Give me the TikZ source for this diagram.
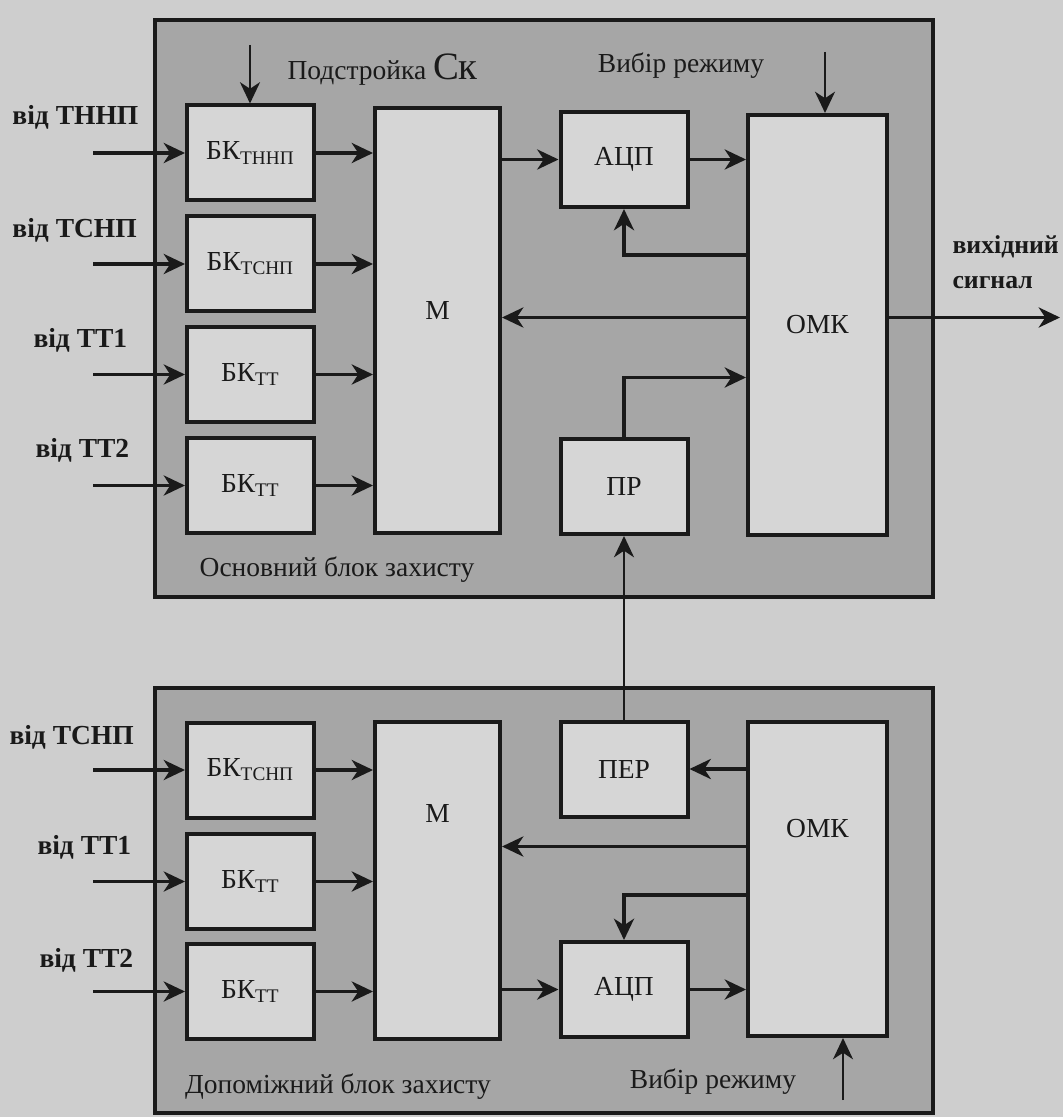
\documentclass[tikz,border=0pt]{standalone}
\usepackage{fontspec}
\setmainfont{Liberation Serif}
\usepackage{tikz}
\usetikzlibrary{arrows.meta,positioning,fit,calc}
\definecolor{scanBack}{RGB}{206,206,206}
\definecolor{scanFrame}{RGB}{166,166,166}
\definecolor{scanBox}{RGB}{214,214,214}
\definecolor{scanInk}{RGB}{26,26,26}

\begin{document}
\begin{tikzpicture}[x=0.4pt,y=-0.4pt,
  font=\fontsize{11}{13}\selectfont,
  frame/.style={draw=scanInk,line width=1.6pt,fill=scanFrame,inner sep=0pt},
  box/.style={draw=scanInk,line width=1.6pt,fill=scanBox,inner sep=0pt,text=scanInk},
  small/.style={box,minimum width=50.8pt,minimum height=38pt},
  arr/.style={-{Stealth[length=8.5pt,width=8pt,inset=2.6pt]},line width=1.5pt,draw=scanInk},
  thinarr/.style={arr,line width=1pt},
  txt/.style={text=scanInk,inner sep=0pt},
  inlbl/.style={txt,font=\fontsize{11}{13}\selectfont\bfseries,anchor=west}
]
  \fill[scanBack] (0,0) rectangle (1063,1117);
  \useasboundingbox (0,0) rectangle (1063,1117);

  \node[frame,fit={(155,20) (933,597)}] (mainblk) {};
  \node[frame,fit={(155,688) (933,1113)}] (auxblk) {};

  \node[small] (bkA) at (250.5,153) {БК\textsubscript{ТННП}};
  \node[small] (bkB) at (250.5,264) {БК\textsubscript{ТСНП}};
  \node[small] (bkC) at (250.5,374.5) {БК\textsubscript{ТТ}};
  \node[small] (bkD) at (250.5,485.5) {БК\textsubscript{ТТ}};
  \node[box,minimum width=50pt,minimum height=170pt,label={[txt,yshift=4pt]center:М}] (mA) at (437.5,320.5) {};
  \node[small] (adcA) at (624,159.5) {АЦП};
  \node[box,minimum width=55.6pt,minimum height=168pt] (omkA) at (817.5,325) {ОМК};
  \node[small] (prA) at (624,486.5) {ПР};

  \node[small] (bkE) at (250.5,770) {БК\textsubscript{ТСНП}};
  \node[small] (bkF) at (250.5,881.5) {БК\textsubscript{ТТ}};
  \node[small] (bkG) at (250.5,991.5) {БК\textsubscript{ТТ}};
  \node[box,minimum width=50pt,minimum height=126.8pt,label={[txt,yshift=27pt]center:М}] (mB) at (437.5,880.5) {};
  \node[small] (perB) at (624,769) {ПЕР};
  \node[small] (adcB) at (624,989.5) {АЦП};
  \node[box,minimum width=55.6pt,minimum height=125.6pt,label={[txt,yshift=20pt]center:ОМК}] (omkB) at (817.5,879) {};

  \node[inlbl] (lblA) at (12,117) {від ТННП};
  \node[inlbl] (lblB) at (12,230) {від ТСНП};
  \node[inlbl] (lblC) at (33,340) {від ТТ1};
  \node[inlbl] (lblD) at (35,450) {від ТТ2};
  \node[inlbl] (lblE) at (9,737) {від ТСНП};
  \node[inlbl] (lblF) at (37,847) {від ТТ1};
  \node[inlbl] (lblG) at (39,960) {від ТТ2};
  \node[inlbl,align=left,font=\fontsize{10.3}{14}\selectfont\bfseries] (outlbl) at (952,262) {вихідний\\сигнал};

  \node[txt,anchor=west] (tune) at (287,70) {Подстройка {\fontsize{15.5}{16}\selectfont Ск}};
  \node[txt] (modeA) at (681,66) {Вибір режиму};
  \node[txt] (modeB) at (713,1082) {Вибір режиму};
  \node[txt] (mainlbl) at (337,570) {Основний блок захисту};
  \node[txt] (auxlbl) at (338,1087) {Допоміжний блок захисту};

  \coordinate (inx) at (93,0);
  \coordinate (tuneIn) at (250,45);
  \coordinate (modeInA) at (825,52);
  \coordinate (modeInB) at (843,1100);
  \coordinate (outEnd) at (1060,0);

  \draw[arr] (inx |- bkA.west) -- (bkA.west);
  \draw[arr] (inx |- bkB.west) -- (bkB.west);
  \draw[arr] (inx |- bkC.west) -- (bkC.west);
  \draw[arr] (inx |- bkD.west) -- (bkD.west);
  \draw[arr] (bkA.east) -- (bkA.east -| mA.west);
  \draw[arr] (bkB.east) -- (bkB.east -| mA.west);
  \draw[arr] (bkC.east) -- (bkC.east -| mA.west);
  \draw[arr] (bkD.east) -- (bkD.east -| mA.west);
  \draw[thinarr] (tuneIn) -- (tuneIn |- bkA.north);
  \draw[arr] (mA.east |- adcA.west) -- (adcA.west);
  \draw[arr] (adcA.east) -- (adcA.east -| omkA.west);
  \draw[thinarr] (modeInA) -- (modeInA |- omkA.north);
  \draw[arr] ([yshift=28pt]omkA.west) -| (adcA.south);
  \draw[arr] ([yshift=3pt]omkA.west) -- ([yshift=3pt]omkA.west -| mA.east);
  \draw[arr] ([yshift=3pt]omkA.east) -- ([yshift=3pt]omkA.east -| outEnd);
  \draw[arr] (prA.north) |- ([yshift=-21pt]omkA.west);

  \draw[thinarr] (perB.north) -- (prA.south);

  \draw[arr] (inx |- bkE.west) -- (bkE.west);
  \draw[arr] (inx |- bkF.west) -- (bkF.west);
  \draw[arr] (inx |- bkG.west) -- (bkG.west);
  \draw[arr] (bkE.east) -- (bkE.east -| mB.west);
  \draw[arr] (bkF.east) -- (bkF.east -| mB.west);
  \draw[arr] (bkG.east) -- (bkG.east -| mB.west);
  \draw[arr] (omkB.west |- perB.east) -- (perB.east);
  \draw[arr] ([yshift=13pt]omkB.west) -- ([yshift=13pt]omkB.west -| mB.east);
  \draw[arr] ([yshift=-6.4pt]omkB.west) -| (adcB.north);
  \draw[arr] (mB.east |- adcB.west) -- (adcB.west);
  \draw[arr] (adcB.east) -- (adcB.east -| omkB.west);
  \draw[thinarr] (modeInB) -- (modeInB |- omkB.south);
\end{tikzpicture}
\end{document}
